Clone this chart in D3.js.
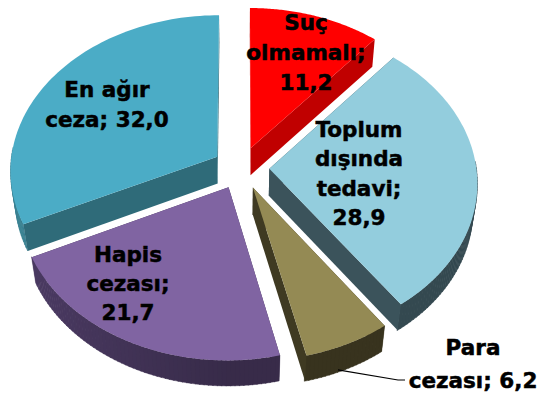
<!DOCTYPE html>
<html>
<head>
<meta charset="utf-8">
<script src="https://cdn.jsdelivr.net/npm/d3@7"></script>
<style>
  html, body { margin: 0; padding: 0; background: #fff; }
  svg { display: block; }
  text { font-family: "DejaVu Sans", sans-serif; font-weight: bold; }
</style>
</head>
<body>
<svg id="chart" width="540" height="394"></svg>
<script>
// Survey answers, in percent, clockwise from 12 o'clock
const categories = ["Suç\nolmamalı", "Toplum\ndışında\ntedavi", "Para\ncezası", "Hapis\ncezası", "En ağır\nceza"];
const values = [11.2, 28.9, 6.2, 21.7, 32.0];
const valueOnSameLine = [false, false, true, false, true];

// Top face colours and the darker colours of the slice walls
const topColors = ["#FF0000", "#93CDDD", "#948A54", "#8064A2", "#4BACC6"];
const sideColors = ["#C00000", "#3B535B", "#3F3A22", "#3F3153", "#2F6B79"];

// Label placement: centre x, first baseline, line height
const labelLayout = [
  [306, 30, 30],
  [359, 137, 29.4],
  [473, 355, 33],
  [128, 262, 29],
  [107, 97, 30]
];

// 3D view of the pie
const view = {
  cx: 241, cy: 168,       // screen position of the top centre
  scale: 203,             // pixels per radius
  elev: 49.5 * Math.PI / 180,
  dist: 7.9,              // camera distance in radii
  height: 0.2,            // thickness in radii
  explode: 0.137
};

const svg = d3.select("#chart");
const fmt = v => d3.format(".1f")(v).replace(".", ",");

const pie = d3.pie().sort(null).value(d => d);
const arcs = pie(values);

const sinE = Math.sin(view.elev), cosE = Math.cos(view.elev);
function rawProj(X, Y, Z) {
  const up = Y * cosE + Z * sinE;
  const w = Y * sinE - Z * cosE;
  const k = view.dist / (view.dist - w);
  return [view.scale * k * X, -view.scale * k * up];
}
const origin = rawProj(0, view.height, 0);
const xScale = d3.scaleLinear().domain([0, 1]).range([view.cx, view.cx + 1]);
const yScale = d3.scaleLinear().domain([0, 1]).range([view.cy, view.cy + 1]);
function P(X, Y, Z) {
  const p = rawProj(X, Y, Z);
  return [xScale(p[0] - origin[0]), yScale(p[1] - origin[1])];
}
const camera = [0, view.dist * sinE, -view.dist * cosE];

const line = d3.line();
const H = view.height;

const slices = arcs.map((a, i) => {
  const mid = (a.startAngle + a.endAngle) / 2;
  const ox = view.explode * Math.sin(mid);
  const oz = view.explode * Math.cos(mid);
  return { a, i, mid, ox, oz };
});

// Paint far slices first
const order = slices.slice().sort((p, q) => q.oz - p.oz);

const g = svg.append("g");

function rimPts(s, y, t0, t1, n) {
  const pts = [];
  for (let j = 0; j <= n; j++) {
    const t = t0 + (t1 - t0) * j / n;
    pts.push(P(s.ox + Math.sin(t), y, s.oz + Math.cos(t)));
  }
  return pts;
}

function faceVisible(nx, nz, px, py, pz) {
  return nx * (camera[0] - px) + nz * (camera[2] - pz) > 0;
}

order.forEach(s => {
  const a0 = s.a.startAngle, a1 = s.a.endAngle;
  const side = sideColors[s.i];
  const sg = g.append("g");

  // radial walls
  const walls = [a0, a1].map((t, k) => {
    const nx = k === 0 ? -Math.cos(t) : Math.cos(t);
    const nz = k === 0 ? Math.sin(t) : -Math.sin(t);
    const mx = s.ox + 0.5 * Math.sin(t), mz = s.oz + 0.5 * Math.cos(t);
    const vis = faceVisible(nx, nz, mx, H / 2, mz);
    const pts = [
      P(s.ox, H, s.oz),
      P(s.ox + Math.sin(t), H, s.oz + Math.cos(t)),
      P(s.ox + Math.sin(t), 0, s.oz + Math.cos(t)),
      P(s.ox, 0, s.oz)
    ];
    return { vis, pts };
  });

  walls.filter(w => !w.vis).forEach(w => {
    sg.append("path").attr("d", line(w.pts) + "Z").attr("fill", side);
  });

  // outer wall, shaded in thin strips
  const n = Math.max(4, Math.ceil((a1 - a0) / 0.02));
  for (let j = 0; j < n; j++) {
    const t0 = a0 + (a1 - a0) * j / n;
    const t1 = a0 + (a1 - a0) * (j + 1) / n;
    const tm = (t0 + t1) / 2;
    if (Math.cos(tm) > 0.05) continue; // back half is hidden
    const light = Math.max(0, -Math.sin(tm)); // lit from the left
    const col = d3.interpolateRgb(d3.color(side).darker(0.35), d3.color(side).brighter(0.55))(light);
    const top = rimPts(s, H, t0, t1 + 0.004, 1);
    const bot = rimPts(s, 0, t1 + 0.004, t0, 1);
    sg.append("path").attr("d", line(top.concat(bot)) + "Z")
      .attr("fill", col).attr("stroke", col).attr("stroke-width", 0.4);
  }

  walls.filter(w => w.vis).forEach(w => {
    sg.append("path").attr("d", line(w.pts) + "Z").attr("fill", side);
  });

  // top face
  const topPts = [P(s.ox, H, s.oz)].concat(rimPts(s, H, a0, a1, 80));
  sg.append("path").attr("d", line(topPts) + "Z").attr("fill", topColors[s.i]);
});

// Leader line for the small slice
const para = slices[2];
const tLead = para.a.startAngle + (para.a.endAngle - para.a.startAngle) * 0.6;
const leadStart = P(para.ox + Math.sin(tLead), 0.02, para.oz + Math.cos(tLead));
const [pcx, pby, plh] = labelLayout[2];
svg.append("path")
  .attr("d", line([leadStart, [pcx - 75, pby + plh - 8], [pcx - 68, pby + plh - 8]]))
  .attr("fill", "none").attr("stroke", "#000").attr("stroke-width", 1.2);

// Labels
arcs.forEach((a, i) => {
  const lines = categories[i].split("\n");
  lines[lines.length - 1] += ";";
  if (valueOnSameLine[i]) lines[lines.length - 1] += " " + fmt(values[i]);
  else lines.push(fmt(values[i]));
  const [lx, ly, lh] = labelLayout[i];
  const t = svg.append("text")
    .attr("text-anchor", "middle")
    .attr("font-size", 21.5)
    .attr("fill", "#000")
    .attr("stroke", "#000")
    .attr("stroke-width", 0.5);
  lines.forEach((ln, j) => {
    t.append("tspan").attr("x", lx).attr("y", ly + j * lh).text(ln);
  });
});
</script>
</body>
</html>
